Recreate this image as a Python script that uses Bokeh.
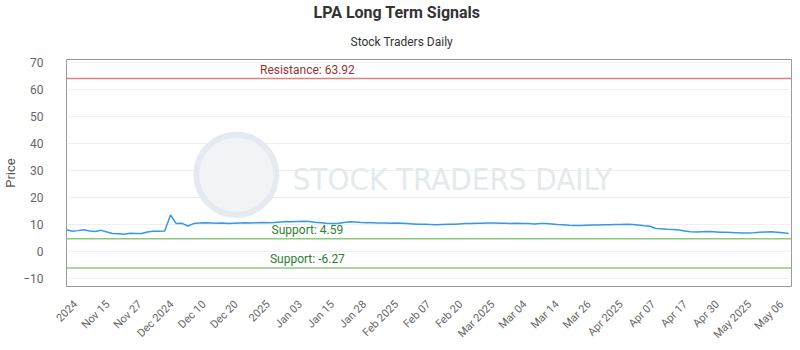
import numpy as np
from bokeh.plotting import figure
from bokeh.models import (Range1d, FixedTicker, Title, Label, BoxAnnotation, Span,
                          CustomJSTickFormatter)
from bokeh.core.properties import value
from bokeh.embed import file_html
from bokeh.resources import INLINE

# ---- data -------------------------------------------------------------
prices = [
    7.9, 7.4, 7.6, 7.9, 7.5, 7.3, 7.7, 7.1, 6.5, 6.4,
    6.3, 6.6, 6.5, 6.5, 7.1, 7.4, 7.4, 7.5, 13.4, 10.2,
    10.3, 9.3, 10.2, 10.4, 10.5, 10.4, 10.3, 10.4, 10.2, 10.3,
    10.4, 10.5, 10.4, 10.5, 10.6, 10.5, 10.6, 10.8, 11.0, 10.9,
    11.0, 11.1, 11.0, 10.7, 10.5, 10.3, 10.2, 10.2, 10.6, 10.9,
    10.8, 10.6, 10.5, 10.5, 10.4, 10.4, 10.3, 10.4, 10.3, 10.2,
    10.1, 10.0, 10.0, 9.9, 9.8, 9.9, 10.0, 10.0, 10.1, 10.2,
    10.2, 10.3, 10.3, 10.4, 10.4, 10.3, 10.3, 10.2, 10.3, 10.2,
    10.2, 10.1, 10.2, 10.2, 10.1, 9.9, 9.8, 9.6, 9.5, 9.5,
    9.6, 9.7, 9.7, 9.8, 9.8, 9.9, 9.9, 10.0, 9.9, 9.7,
    9.4, 9.2, 8.4, 8.3, 8.1, 8.0, 7.8, 7.5, 7.2, 7.1,
    7.2, 7.3, 7.2, 7.0, 7.0, 6.9, 6.8, 6.7, 6.7, 6.8,
    7.0, 7.1, 7.2, 7.0, 6.8, 6.5,
]
resistance = 63.92
supports = [4.59, -6.27]
y_ticks = [-10, 0, 10, 20, 30, 40, 50, 60, 70]
x_labels = ["2024", "Nov 15", "Nov 27", "Dec 2024", "Dec 10", "Dec 20", "2025",
            "Jan 03", "Jan 15", "Jan 28", "Feb 2025", "Feb 07", "Feb 20",
            "Mar 2025", "Mar 04", "Mar 14", "Mar 26", "Apr 2025", "Apr 07",
            "Apr 17", "Apr 30", "May 2025", "May 06"]
title_text = "LPA Long Term Signals"
subtitle_text = "Stock Traders Daily"

idx = list(range(len(prices)))
tick_pos = list(np.linspace(1.6, 123.8, len(x_labels)))

FONT = "Roboto"

p = figure(width=800, height=350, output_backend="svg", toolbar_location=None,
           x_range=Range1d(0, 125.5), y_range=Range1d(-13.1, 71.0),
           min_border_left=65, min_border_right=9, min_border_top=59,
           min_border_bottom=64, background_fill_color="white",
           border_fill_color="white")

p.outline_line_color = "#999999"
p.outline_line_width = 1
p.xgrid.visible = False
p.ygrid.grid_line_color = "#efefef"
p.ygrid.ticker = FixedTicker(ticks=y_ticks)

# titles (left aligned with offsets so they sit centred on the page)
sub = Title(text=subtitle_text, align="left", offset=284, standoff=22,
            text_font=FONT, text_font_size="12px", text_font_style="normal",
            text_color="#333333")
p.add_layout(sub, "above")
main = Title(text=title_text, align="left", offset=247, standoff=0,
             text_font=FONT, text_font_size="16px", text_font_style="bold",
             text_color="#333333")
p.add_layout(main, "above")

# y axis
p.yaxis.ticker = FixedTicker(ticks=y_ticks)
p.yaxis.axis_line_color = None
p.yaxis.major_tick_line_color = None
p.yaxis.minor_tick_line_color = None
p.yaxis.major_label_standoff = 17
p.yaxis.major_label_text_font = FONT
p.yaxis.major_label_text_font_size = "12px"
p.yaxis.major_label_text_color = "#666666"
p.yaxis.axis_label = "Price"
p.yaxis.axis_label_text_font = FONT
p.yaxis.axis_label_text_font_size = "13px"
p.yaxis.axis_label_text_font_style = "normal"
p.yaxis.axis_label_text_color = "#555555"
p.yaxis.axis_label_standoff = 2

# x axis
p.xaxis.ticker = FixedTicker(ticks=tick_pos)
p.xaxis.formatter = CustomJSTickFormatter(args=dict(labels=x_labels),
                                          code="return labels[index]")
p.xaxis.axis_line_color = None
p.xaxis.major_tick_line_color = None
p.xaxis.minor_tick_line_color = None
p.xaxis.major_label_orientation = np.pi / 4
p.xaxis.major_label_standoff = 10
p.xaxis.major_label_text_font = FONT
p.xaxis.major_label_text_font_size = "11px"
p.xaxis.major_label_text_color = "#666666"

# offset axis lines
p.add_layout(BoxAnnotation(left=55, right=56, top=59, bottom=286,
                           left_units="canvas", right_units="canvas",
                           top_units="canvas", bottom_units="canvas",
                           fill_color="#cccccc", fill_alpha=1, line_color=None))
p.add_layout(BoxAnnotation(left=65, right=791, top=296, bottom=297,
                           left_units="canvas", right_units="canvas",
                           top_units="canvas", bottom_units="canvas",
                           fill_color="#cccccc", fill_alpha=1, line_color=None))

# watermark
p.scatter(x=[29.4], y=[28.3], size=80, marker="circle", fill_color="#f1f4f7",
          line_color="#e4eaf0", line_width=6)
p.add_layout(Label(x=66.8, y=26.6, text="STOCK TRADERS DAILY", text_align="center",
                   text_baseline="middle", text_font="DejaVu Sans Condensed",
                   text_font_size="31px", text_color="#e4e9ee"))

# price line
p.line(idx, prices, line_color="#3399e6", line_width=1.5)

# levels
p.add_layout(Span(location=resistance, dimension="width", line_color="#e08080",
                  line_width=1.5))
for s in supports:
    p.add_layout(Span(location=s, dimension="width", line_color="#8cc97c",
                      line_width=1.5))

label_x = 41.7
p.text(x=[label_x], y=[resistance], text=[f"Resistance: {resistance}"],
       text_align="center", text_baseline="bottom", y_offset=-2,
       text_font=value(FONT), text_font_size="12px", text_color="#993333")
p.text(x=[label_x] * len(supports), y=supports,
       text=[f"Support: {s}" for s in supports],
       text_align="center", text_baseline="bottom", y_offset=-2,
       text_font=value(FONT), text_font_size="12px", text_color="#2e7d32")

open("out.html", "w").write(file_html(p, INLINE))
